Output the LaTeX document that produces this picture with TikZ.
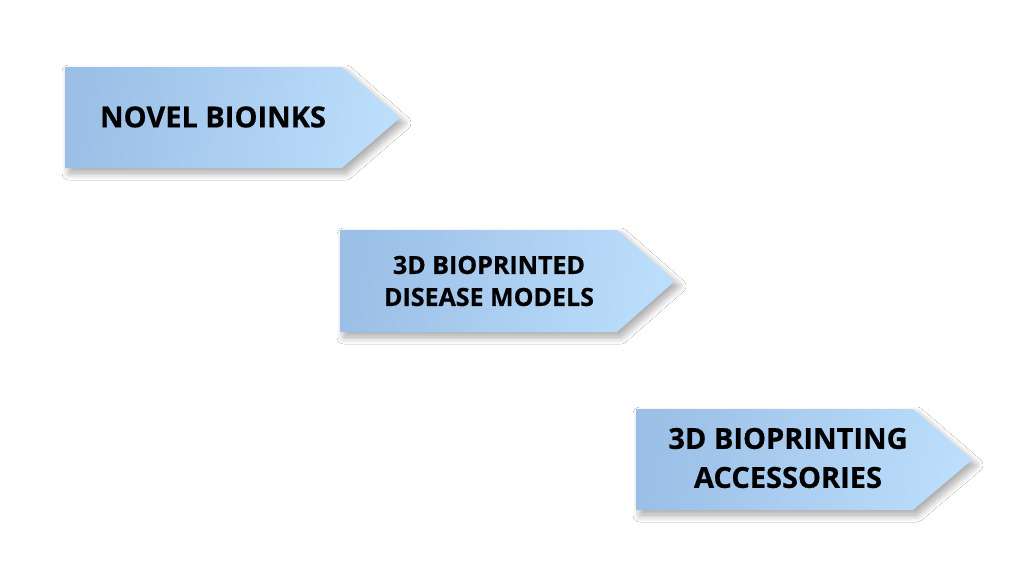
\documentclass[tikz,border=0pt]{standalone}
\usepackage{fontspec}
\setmainfont{Open Sans}[BoldFeatures={FakeBold=0.6}]
\usetikzlibrary{shadows.blur}

\definecolor{boxleft}{RGB}{155,191,230}
\definecolor{boxright}{RGB}{188,222,252}

\begin{document}
\begin{tikzpicture}[x=1pt,y=-1pt]
    \tikzstyle{arrow box}=[left color=boxleft, right color=boxright, shading angle=80,
        blur shadow={shadow xshift=4pt, shadow yshift=-5pt, shadow opacity=35, shadow blur radius=7pt, shadow blur steps=12}];
    \tikzstyle{box text}=[align=center, inner sep=0pt, font=\bfseries];
    
    \useasboundingbox[fill=white] (0,0) rectangle (1024,576);
    
    % arrow boxes
    \path[arrow box] (65,67) -- (342,67) -- (400,118) -- (342,168) -- (65,168) -- cycle;
    \path[arrow box] (340,230) -- (617,230) -- (675,281) -- (617,332) -- (340,332) -- cycle;
    \path[arrow box] (636,409) -- (913,409) -- (972,460) -- (913,510) -- (636,510) -- cycle;
    
    % labels
    \node[box text, font=\bfseries\fontsize{29}{31}\selectfont] (bioinks) at (213,117) {NOVEL BIOINKS};
    \node[box text, font=\bfseries\fontsize{25}{32}\selectfont] (models) at (489,281) {3D BIOPRINTED\\DISEASE MODELS};
    \node[box text, font=\bfseries\fontsize{29}{39}\selectfont] (accessories) at (788,458) {3D BIOPRINTING\\ACCESSORIES};
    
\end{tikzpicture}
\end{document}
